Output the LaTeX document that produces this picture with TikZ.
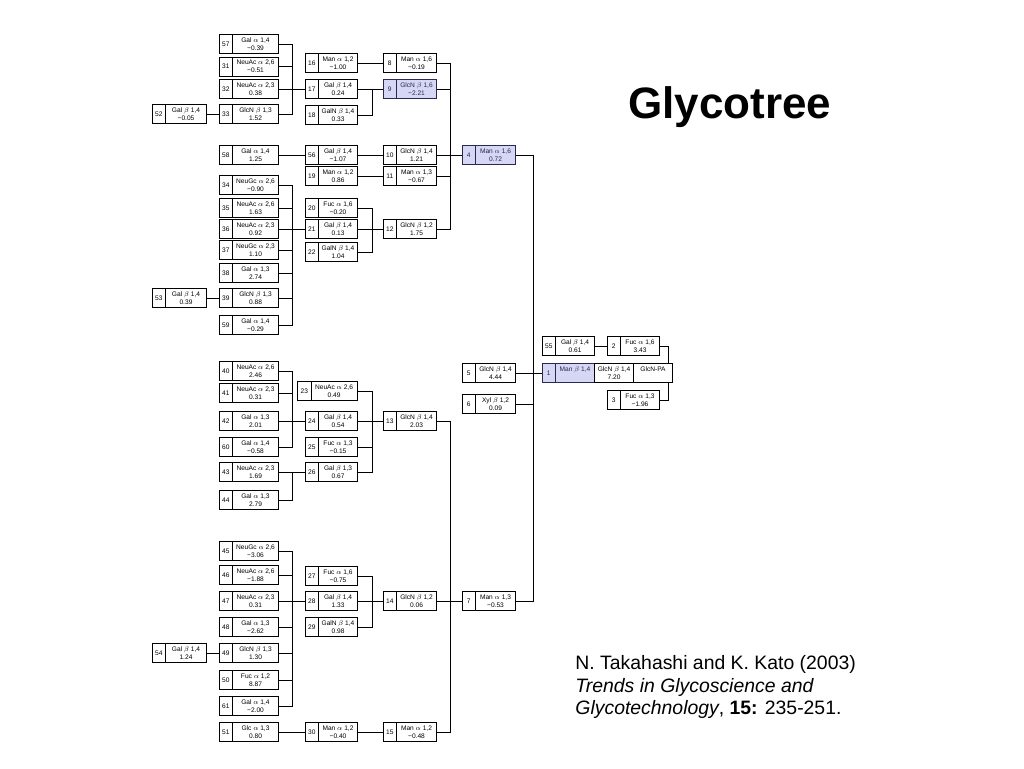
\documentclass[tikz,border=0pt]{standalone}
\usepackage{amssymb}
\usepackage{amsmath}
\usepackage{fontspec}
\setmainfont{Liberation Sans}
\usepackage{tikz}
\usetikzlibrary{positioning}
\definecolor{hlfill}{RGB}{214,214,245}
\definecolor{hldraw}{RGB}{40,40,80}

\begin{document}
\begin{tikzpicture}[x=1pt, y=-1pt, line width=0.9pt, font=\fontsize{6.6}{8}\selectfont,
    num/.style = {draw, anchor=west, minimum width=13.5pt, minimum height=19pt, inner sep=0pt, outer sep=0pt},
    lab/.style = {draw, align=center, minimum height=19pt, inner sep=0pt, outer sep=0pt},
    colA/.style = {lab, minimum width=41pt}, colB/.style = {lab, minimum width=46pt},
    colC/.style = {lab, minimum width=39pt}, colD/.style = {lab, minimum width=40pt},
    hl/.style = {fill=hlfill, draw=hldraw, text=hldraw}]
                \fill[white] (0,0) rectangle (1024,768);
                \node[num] (n52) at (152,114) {52}; \node[colA, right=0pt of n52] (g52) {Gal $\beta$ 1,4\\−0.05};
                \node[num] (n53) at (152,298) {53}; \node[colA, right=0pt of n53] (g53) {Gal $\beta$ 1,4\\0.39};
                \node[num] (n54) at (152,653) {54}; \node[colA, right=0pt of n54] (g54) {Gal $\beta$ 1,4\\1.24};
                \node[num] (n57) at (219,44) {57}; \node[colB, right=0pt of n57] (g57) {Gal $\alpha$ 1,4\\−0.39};
                \node[num] (n31) at (219,66.5) {31}; \node[colB, right=0pt of n31] (g31) {NeuAc $\alpha$ 2,6\\−0.51};
                \node[num] (n32) at (219,89) {32}; \node[colB, right=0pt of n32] (g32) {NeuAc $\alpha$ 2,3\\0.38};
                \node[num] (n33) at (219,114) {33}; \node[colB, right=0pt of n33] (g33) {GlcN $\beta$ 1,3\\1.52};
                \node[num] (n58) at (219,155) {58}; \node[colB, right=0pt of n58] (g58) {Gal $\alpha$ 1,4\\1.25};
                \node[num] (n34) at (219,185) {34}; \node[colB, right=0pt of n34] (g34) {NeuGc $\alpha$ 2,6\\−0.90};
                \node[num] (n35) at (219,208) {35}; \node[colB, right=0pt of n35] (g35) {NeuAc $\alpha$ 2,6\\1.63};
                \node[num] (n36) at (219,229) {36}; \node[colB, right=0pt of n36] (g36) {NeuAc $\alpha$ 2,3\\0.92};
                \node[num] (n37) at (219,250) {37}; \node[colB, right=0pt of n37] (g37) {NeuGc $\alpha$ 2,3\\1.10};
                \node[num] (n38) at (219,273) {38}; \node[colB, right=0pt of n38] (g38) {Gal $\alpha$ 1,3\\2.74};
                \node[num] (n39) at (219,298) {39}; \node[colB, right=0pt of n39] (g39) {GlcN $\beta$ 1,3\\0.88};
                \node[num] (n59) at (219,325) {59}; \node[colB, right=0pt of n59] (g59) {Gal $\alpha$ 1,4\\−0.29};
                \node[num] (n40) at (219,371) {40}; \node[colB, right=0pt of n40] (g40) {NeuAc $\alpha$ 2,6\\2.46};
                \node[num] (n41) at (219,393) {41}; \node[colB, right=0pt of n41] (g41) {NeuAc $\alpha$ 2,3\\0.31};
                \node[num] (n42) at (219,421) {42}; \node[colB, right=0pt of n42] (g42) {Gal $\alpha$ 1,3\\2.01};
                \node[num] (n60) at (219,447) {60}; \node[colB, right=0pt of n60] (g60) {Gal $\alpha$ 1,4\\−0.58};
                \node[num] (n43) at (219,472) {43}; \node[colB, right=0pt of n43] (g43) {NeuAc $\alpha$ 2,3\\1.69};
                \node[num] (n44) at (219,500) {44}; \node[colB, right=0pt of n44] (g44) {Gal $\alpha$ 1,3\\2.79};
                \node[num] (n45) at (219,551) {45}; \node[colB, right=0pt of n45] (g45) {NeuGc $\alpha$ 2,6\\−3.06};
                \node[num] (n46) at (219,575) {46}; \node[colB, right=0pt of n46] (g46) {NeuAc $\alpha$ 2,6\\−1.88};
                \node[num] (n47) at (219,601) {47}; \node[colB, right=0pt of n47] (g47) {NeuAc $\alpha$ 2,3\\0.31};
                \node[num] (n48) at (219,627) {48}; \node[colB, right=0pt of n48] (g48) {Gal $\alpha$ 1,3\\−2.62};
                \node[num] (n49) at (219,653) {49}; \node[colB, right=0pt of n49] (g49) {GlcN $\beta$ 1,3\\1.30};
                \node[num] (n50) at (219,680) {50}; \node[colB, right=0pt of n50] (g50) {Fuc $\alpha$ 1,2\\8.87};
                \node[num] (n61) at (219,706) {61}; \node[colB, right=0pt of n61] (g61) {Gal $\alpha$ 1,4\\−2.00};
                \node[num] (n51) at (219,732) {51}; \node[colB, right=0pt of n51] (g51) {Glc $\alpha$ 1,3\\0.80};
                \node[num] (n16) at (305,63) {16}; \node[colC, right=0pt of n16] (g16) {Man $\alpha$ 1,2\\−1.00};
                \node[num] (n17) at (305,89) {17}; \node[colC, right=0pt of n17] (g17) {Gal $\beta$ 1,4\\0.24};
                \node[num] (n18) at (305,115) {18}; \node[colC, right=0pt of n18] (g18) {GalN $\beta$ 1,4\\0.33};
                \node[num] (n56) at (305,155) {56}; \node[colC, right=0pt of n56] (g56) {Gal $\beta$ 1,4\\−1.07};
                \node[num] (n19) at (305,176) {19}; \node[colC, right=0pt of n19] (g19) {Man $\alpha$ 1,2\\0.86};
                \node[num] (n20) at (305,208) {20}; \node[colC, right=0pt of n20] (g20) {Fuc $\alpha$ 1,6\\−0.20};
                \node[num] (n21) at (305,229) {21}; \node[colC, right=0pt of n21] (g21) {Gal $\beta$ 1,4\\0.13};
                \node[num] (n22) at (305,252) {22}; \node[colC, right=0pt of n22] (g22) {GalN $\beta$ 1,4\\1.04};
                \node[num] (n23) at (297.5,391) {23}; \node[colB, right=0pt of n23] (g23) {NeuAc $\alpha$ 2,6\\0.49};
                \node[num] (n24) at (305,421) {24}; \node[colC, right=0pt of n24] (g24) {Gal $\beta$ 1,4\\0.54};
                \node[num] (n25) at (305,447) {25}; \node[colC, right=0pt of n25] (g25) {Fuc $\alpha$ 1,3\\−0.15};
                \node[num] (n26) at (305,472) {26}; \node[colC, right=0pt of n26] (g26) {Gal $\beta$ 1,3\\0.67};
                \node[num] (n27) at (305,576) {27}; \node[colC, right=0pt of n27] (g27) {Fuc $\alpha$ 1,6\\−0.75};
                \node[num] (n28) at (305,601) {28}; \node[colC, right=0pt of n28] (g28) {Gal $\beta$ 1,4\\1.33};
                \node[num] (n29) at (305,627) {29}; \node[colC, right=0pt of n29] (g29) {GalN $\beta$ 1,4\\0.98};
                \node[num] (n30) at (305,732) {30}; \node[colC, right=0pt of n30] (g30) {Man $\alpha$ 1,2\\−0.40};
                \node[num] (n8) at (383,63) {8}; \node[colD, right=0pt of n8] (g8) {Man $\alpha$ 1,6\\−0.19};
                \node[num, hl] (n9) at (383,89) {9}; \node[colD, hl, right=0pt of n9] (g9) {GlcN $\beta$ 1,6\\−2.21};
                \node[num] (n10) at (383,155) {10}; \node[colD, right=0pt of n10] (g10) {GlcN $\beta$ 1,4\\1.21};
                \node[num] (n11) at (383,176) {11}; \node[colD, right=0pt of n11] (g11) {Man $\alpha$ 1,3\\−0.67};
                \node[num] (n12) at (383,229) {12}; \node[colD, right=0pt of n12] (g12) {GlcN $\beta$ 1,2\\1.75};
                \node[num] (n13) at (383,421) {13}; \node[colD, right=0pt of n13] (g13) {GlcN $\beta$ 1,4\\2.03};
                \node[num] (n14) at (383,601) {14}; \node[colD, right=0pt of n14] (g14) {GlcN $\beta$ 1,2\\0.06};
                \node[num] (n15) at (383,732) {15}; \node[colD, right=0pt of n15] (g15) {Man $\alpha$ 1,2\\−0.48};
                \node[num, hl] (n4) at (462,155) {4}; \node[colD, hl, right=0pt of n4] (g4) {Man $\alpha$ 1,6\\0.72};
                \node[num] (n5) at (462,373) {5}; \node[colD, right=0pt of n5] (g5) {GlcN $\beta$ 1,4\\4.44};
                \node[num] (n6) at (462,404) {6}; \node[colD, right=0pt of n6] (g6) {Xyl $\beta$ 1,2\\0.09};
                \node[num] (n7) at (462,601) {7}; \node[colD, right=0pt of n7] (g7) {Man $\alpha$ 1,3\\−0.53};
                \node[num, hl] (n1) at (542,373) {1}; \node[colC, hl, right=0pt of n1] (g1) {Man $\beta$ 1,4\\~};
                \node[colC, right=0pt of g1] (g1b) {GlcN $\beta$ 1,4\\7.20};
                \node[colC, right=0pt of g1b] (g1c) {GlcN-PA\\~};
                \node[num] (n55) at (542,346) {55}; \node[colC, right=0pt of n55] (g55) {Gal $\beta$ 1,4\\0.61};
                \node[num] (n2) at (607,346) {2}; \node[colC, right=0pt of n2] (g2) {Fuc $\alpha$ 1,6\\3.43};
                \node[num] (n3) at (607,400) {3}; \node[colC, right=0pt of n3] (g3) {Fuc $\alpha$ 1,3\\−1.96};
                \coordinate (jb1) at (292,89);
                \coordinate (jc1) at (372,89);
                \coordinate (jb2) at (292,229);
                \coordinate (jc2) at (372,229);
                \coordinate (jd1) at (450,155);
                \coordinate (je) at (533,373);
                \coordinate (jr) at (668,373);
                \coordinate (jb3) at (292,421);
                \coordinate (jb4) at (292,472);
                \coordinate (jc3) at (372,421);
                \coordinate (jb5) at (292,601);
                \coordinate (jc4) at (372,601);
                \coordinate (jd2) at (450,601);
                \draw (g57.east) -| (jb1) -- (n17.west);
                \draw (g31.east) -| (jb1);
                \draw (g32.east) -- (jb1);
                \draw (g33.east) -| (jb1);
                \draw (g52.east) -- (n33.west);
                \draw (g16.east) -- (n8.west);
                \draw (g17.east) -- (n9.west);
                \draw (g18.east) -| (jc1);
                \draw (g58.east) -- (n56.west);
                \draw (g56.east) -- (n10.west);
                \draw (g19.east) -- (n11.west);
                \draw (g34.east) -| (jb2) -- (n21.west);
                \draw (g35.east) -| (jb2);
                \draw (g36.east) -- (jb2);
                \draw (g37.east) -| (jb2);
                \draw (g38.east) -| (jb2);
                \draw (g39.east) -| (jb2);
                \draw (g59.east) -| (jb2);
                \draw (g53.east) -- (n39.west);
                \draw (g20.east) -| (jc2) -- (n12.west);
                \draw (g21.east) -- (jc2);
                \draw (g22.east) -| (jc2);
                \draw (g8.east) -| (jd1) -- (n4.west);
                \draw (g9.east) -| (jd1);
                \draw (g10.east) -- (jd1);
                \draw (g11.east) -| (jd1);
                \draw (g12.east) -| (jd1);
                \draw (g4.east) -| (je) -- (n1.west);
                \draw (g5.east) -- (je);
                \draw (g6.east) -| (je);
                \draw (g7.east) -| (je);
                \draw (g55.east) -- (n2.west);
                \draw (g2.east) -| (jr |- g1c.north);
                \draw (g3.east) -| (jr |- g1c.south);
                \draw (g40.east) -| (jb3) -- (n24.west);
                \draw (g41.east) -| (jb3);
                \draw (g42.east) -- (jb3);
                \draw (g60.east) -| (jb3);
                \draw (g43.east) -- (n26.west);
                \draw (g44.east) -| (jb4);
                \draw (g23.east) -| (jc3) -- (n13.west);
                \draw (g24.east) -- (jc3);
                \draw (g25.east) -| (jc3);
                \draw (g26.east) -| (jc3);
                \draw (g45.east) -| (jb5) -- (n28.west);
                \draw (g46.east) -| (jb5);
                \draw (g47.east) -- (jb5);
                \draw (g48.east) -| (jb5);
                \draw (g49.east) -| (jb5);
                \draw (g50.east) -| (jb5);
                \draw (g61.east) -| (jb5);
                \draw (g54.east) -- (n49.west);
                \draw (g27.east) -| (jc4) -- (n14.west);
                \draw (g28.east) -- (jc4);
                \draw (g29.east) -| (jc4);
                \draw (g51.east) -- (n30.west);
                \draw (g30.east) -- (n15.west);
                \draw (g13.east) -| (jd2) -- (n7.west);
                \draw (g14.east) -- (jd2);
                \draw (g15.east) -| (jd2);
                \node[anchor=base west, inner sep=0pt, font=\fontsize{44}{44}\selectfont\bfseries] (title) at (628,118) {Glycotree};
                \node[anchor=base west, inner sep=0pt, font=\fontsize{19.4}{22.5}\selectfont] (cite1) at (575,669) {N. Takahashi and K. Kato (2003)};
                \node[anchor=base west, inner sep=0pt, font=\fontsize{19.4}{22.5}\selectfont] (cite2) at (575,692) {\textit{Trends in Glycoscience and}};
                \node[anchor=base west, inner sep=0pt, font=\fontsize{19.4}{22.5}\selectfont] (cite3) at (575,714) {\textit{Glycotechnology}, \textbf{15:} 235-251.};
            \end{tikzpicture}
\end{document}
